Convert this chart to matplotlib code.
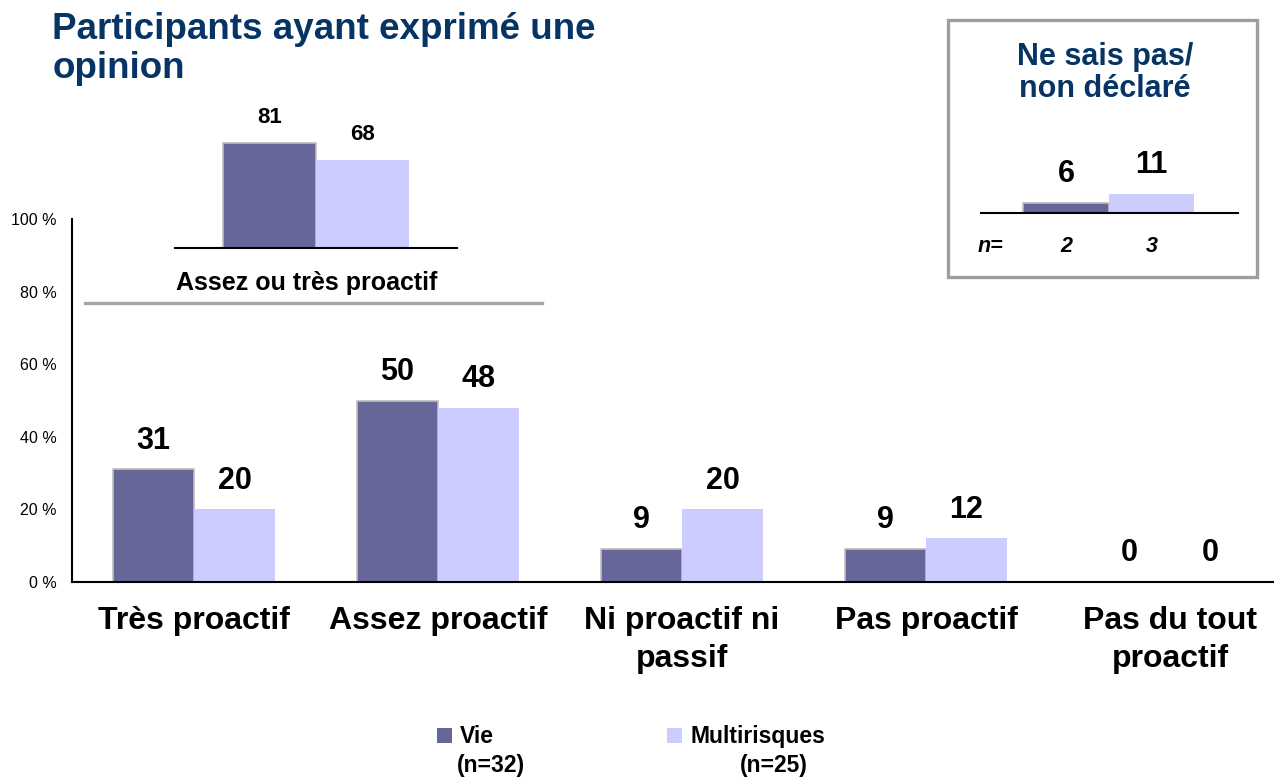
import matplotlib
matplotlib.use("Agg")
import matplotlib.pyplot as plt
from matplotlib.patches import Rectangle
from matplotlib.lines import Line2D
from matplotlib.ticker import FuncFormatter
import numpy as np

plt.rcParams['font.family'] = ['Liberation Sans', 'DejaVu Sans']

# ---------------- data ----------------
categories = ["Très proactif", "Assez proactif", "Ni proactif ni\npassif",
              "Pas proactif", "Pas du tout\nproactif"]
vie = [31, 50, 9, 9, 0]
multi = [20, 48, 20, 12, 0]

summary_label = "Assez ou très proactif"
summary_vie = [81]
summary_multi = [68]

nsp_title = "Ne sais pas/\nnon déclaré"
nsp_vie = [6]
nsp_multi = [11]
nsp_n = ["2", "3"]

series_names = ["Vie", "Multirisques"]
series_n = ["(n=32)", "(n=25)"]
yticks = [0, 20, 40, 60, 80, 100]

title = "Participants ayant exprimé une\nopinion"

# ---------------- style ----------------
C_VIE = "#666699"
C_MULTI = "#CCCCFF"
EDGE_VIE = "#bdbdbd"
NAVY = "#063565"

W, H = 1274, 780
fig = plt.figure(figsize=(W / 100, H / 100), dpi=100)


def fx(px):
    return px / W


def fy(py):
    return 1 - py / H


# ---------------- main chart ----------------
ax = fig.add_axes([fx(72), fy(582), fx(1220), 363 / H])
x = np.arange(len(categories))
bw = 0.332
ax.bar(x - bw / 2, vie, bw, color=C_VIE, edgecolor=EDGE_VIE, linewidth=1.2)
ax.bar(x + bw / 2, multi, bw, color=C_MULTI, linewidth=0)
for xi, v in zip(x - bw / 2, vie):
    ax.annotate(f"{v}", (xi, v), xytext=(0, 15), textcoords="offset points",
                ha="center", va="baseline", fontsize=22, fontweight="bold")
for xi, v in zip(x + bw / 2, multi):
    ax.annotate(f"{v}", (xi, v), xytext=(0, 15), textcoords="offset points",
                ha="center", va="baseline", fontsize=22, fontweight="bold")

ax.set_xlim(-0.5, len(categories) - 0.5)
ax.set_ylim(0, 100)
ax.set_yticks(yticks)
ax.yaxis.set_major_formatter(FuncFormatter(lambda v, p: f"{int(v)} %"))
ax.tick_params(axis="y", length=0, pad=11, labelsize=11.5)
ax.set_xticks(x)
ax.set_xticklabels(categories, fontsize=23, fontweight="bold", linespacing=1.35)
ax.tick_params(axis="x", length=0, pad=17)
for s in ["top", "right"]:
    ax.spines[s].set_visible(False)
ax.spines["left"].set_linewidth(1.5)
ax.spines["bottom"].set_linewidth(1.5)
ax.set_facecolor("none")

# ---------------- summary inset ----------------
ax2 = fig.add_axes([fx(175), fy(248), fx(282), 130 / H])
ax2.bar([-0.5], summary_vie, 1.0, color=C_VIE, edgecolor=EDGE_VIE, linewidth=1.2)
ax2.bar([0.5], summary_multi, 1.0, color=C_MULTI, linewidth=0)
for xi, v in zip([-0.5, 0.5], summary_vie + summary_multi):
    ax2.annotate(f"{v}", (xi, v), xytext=(0, 14), textcoords="offset points",
                 ha="center", va="baseline", fontsize=16, fontweight="bold")
ax2.set_xlim(-1.52, 1.52)
ax2.set_ylim(0, 100)
ax2.set_xticks([])
ax2.set_yticks([])
for s in ["top", "right", "left"]:
    ax2.spines[s].set_visible(False)
ax2.spines["bottom"].set_linewidth(1.5)
ax2.set_facecolor("none")
fig.text(fx(307), fy(290), summary_label, ha="center", va="baseline",
         fontsize=18, fontweight="bold")
fig.add_artist(Line2D([fx(85), fx(542)], [fy(303.5), fy(303.5)],
                      color="#a6a6a6", linewidth=2.4, transform=fig.transFigure))

# ---------------- "ne sais pas" box ----------------
fig.add_artist(Rectangle((fx(948), fy(277)), fx(309), 257 / H,
                         transform=fig.transFigure, fill=False,
                         edgecolor="#9e9e9e", linewidth=2.4))
fig.text(fx(1105), fy(97), nsp_title, ha="center", va="baseline",
         fontsize=22, fontweight="bold", color=NAVY, linespacing=1.1)
ax3 = fig.add_axes([fx(981), fy(213), fx(257), 170 / H])
ax3.bar([0], nsp_vie, 1.0, color=C_VIE, edgecolor=EDGE_VIE, linewidth=1.2)
ax3.bar([1], nsp_multi, 1.0, color=C_MULTI, linewidth=0)
for xi, v in zip([0, 1], nsp_vie + nsp_multi):
    ax3.annotate(f"{v}", (xi, v), xytext=(0, 15), textcoords="offset points",
                 ha="center", va="baseline", fontsize=22, fontweight="bold")
ax3.set_xlim(-0.994, 2.012)
ax3.set_ylim(0, 100)
ax3.set_xticks([])
ax3.set_yticks([])
for s in ["top", "right", "left"]:
    ax3.spines[s].set_visible(False)
ax3.spines["bottom"].set_linewidth(1.5)
ax3.set_facecolor("none")
fig.text(fx(990), fy(252), "n=", ha="center", va="baseline", fontsize=15.5,
         fontweight="bold", fontstyle="italic")
for xi, t in zip([0, 1], nsp_n):
    ax3.annotate(t, (xi, 0), xytext=(0, -28), textcoords="offset points",
                 ha="center", va="baseline", fontsize=15.5, fontweight="bold",
                 fontstyle="italic")

# ---------------- title ----------------
fig.text(fx(52.5), fy(78), title, ha="left", va="baseline", fontsize=26.5,
         fontweight="bold", color=NAVY, linespacing=1.15)

# ---------------- legend ----------------
for (sx, name, nx, nlab, col) in [(437, series_names[0], 457, series_n[0], C_VIE),
                                   (667, series_names[1], 740, series_n[1], C_MULTI)]:
    fig.add_artist(Rectangle((fx(sx), fy(743)), fx(15), 15 / H,
                             transform=fig.transFigure, facecolor=col,
                             edgecolor="none"))
    fig.text(fx(sx + 23), fy(743), name, ha="left", va="baseline",
             fontsize=16.5, fontweight="bold")
    fig.text(fx(nx), fy(772), nlab, ha="left", va="baseline",
             fontsize=16.5, fontweight="bold")

fig.savefig("out.png", dpi=100, facecolor="white")
